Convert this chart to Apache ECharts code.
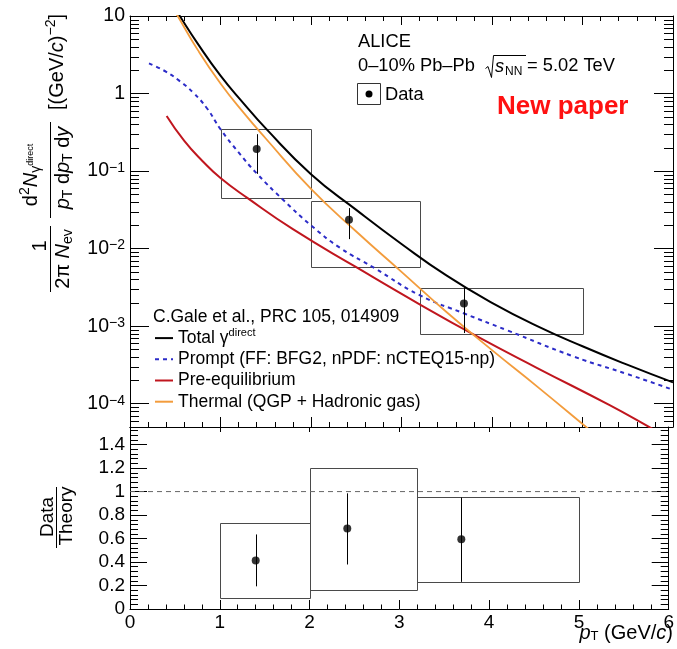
<!DOCTYPE html>
<html><head><meta charset="utf-8">
<script src="https://cdn.jsdelivr.net/npm/echarts@6/dist/echarts.min.js"></script>
<style>html,body{margin:0;padding:0;background:#fff}#c{width:677px;height:649px}</style>
</head><body><div id="c"></div>
<script>
const FONT = '"Liberation Sans", Arial, Helvetica, sans-serif';

// ---- model curves: pT (GeV/c) and yield ----
const totalX = [0.45, 0.55, 0.75, 1.0, 1.25, 1.5, 2.0, 2.5, 3.0, 3.5, 4.0, 4.5, 5.0, 5.5, 6.0];
const totalY = [15.5, 10, 4.37, 1.70, 0.759, 0.355, 0.0912, 0.0316, 0.01148, 4.47e-3, 2.0e-3, 1.0e-3, 5.5e-4, 3.16e-4, 1.88e-4];
const promptX = [0.21, 0.4, 0.55, 0.7, 0.85, 1.0, 1.2, 1.4, 1.7, 2.0, 2.32, 2.7, 3.2, 3.7, 4.16, 4.9, 5.5, 6.0];
const promptY = [2.45, 1.905, 1.445, 1.023, 0.646, 0.347, 0.174, 0.0933, 0.0417, 0.01995, 0.01023, 5.62e-3, 2.51e-3, 1.445e-3, 8.91e-4, 4.07e-4, 2.40e-4, 1.51e-4];
const preeqX = [0.405, 0.6, 0.8, 1.0, 1.3, 1.8, 2.5, 3.2, 3.83, 4.5, 5.3, 5.75, 6.0];
const preeqY = [0.514, 0.245, 0.135, 0.0813, 0.0447, 0.0178, 5.75e-3, 1.91e-3, 7.41e-4, 2.88e-4, 9.55e-5, 4.9e-5, 3.4e-5];
const thermalX = [0.43, 0.527, 0.75, 1.0, 1.25, 1.5, 2.0, 2.5, 3.0, 3.5, 4.0, 4.5, 5.06, 5.3];
const thermalY = [15.5, 10, 3.63, 1.349, 0.575, 0.263, 0.0589, 0.0166, 5.01e-3, 1.51e-3, 4.9e-4, 1.66e-4, 4.79e-5, 2.8e-5];

// ---- data points ----
const dataX = [1.40, 2.42, 3.69];
const dataY = [0.193, 0.0235, 1.96e-3];
const statLow = [0.092, 0.01325, 8.15e-4];
const statHigh = [0.299, 0.0333, 3.25e-3];
const binLow = [1.0, 2.0, 3.2];
const binHigh = [2.0, 3.2, 5.0];
const sysLow = [0.0448, 5.78e-3, 7.9e-4];
const sysHigh = [0.347, 0.0413, 3.1e-3];

// ---- ratio Data/Theory ----
const ratioY = [0.413, 0.685, 0.595];
const ratioStatLow = [0.193, 0.379, 0.231];
const ratioStatHigh = [0.635, 0.985, 0.949];
const ratioSysLow = [0.094, 0.165, 0.231];
const ratioSysHigh = [0.732, 1.205, 0.954];
const unityLine = [1, 1];

// ---- axis ticks ----
const logMinorMantissa = [2, 3, 4, 5, 6, 7, 8, 9];

const zip = (xs, ys) => xs.map((x, i) => [x, ys[i]]);
const chart = echarts.init(document.getElementById('c'), null, {renderer: 'canvas'});

const logMinor = [];
for (let e = -5; e <= 0; e++) for (const m of logMinorMantissa) {
  const v = m * Math.pow(10, e);
  if (v > 5e-5 && v < 10) logMinor.push([0, v]);
}

function boxItem(params, api) {
  const p1 = api.coord([api.value(0), api.value(3)]);
  const p2 = api.coord([api.value(1), api.value(2)]);
  const x1 = Math.round(p1[0]) + 0.5, y1 = Math.round(p1[1]) + 0.5;
  const x2 = Math.round(p2[0]) + 0.5, y2 = Math.round(p2[1]) + 0.5;
  return {type: 'rect', shape: {x: x1, y: y1, width: x2 - x1, height: y2 - y1},
    style: {fill: 'none', stroke: '#4a4a4a', lineWidth: 1}};
}
function errItem(params, api) {
  const a = api.coord([api.value(0), api.value(1)]);
  const b = api.coord([api.value(0), api.value(2)]);
  const x = Math.round(a[0]) + 0.5;
  return {type: 'line', shape: {x1: x, y1: a[1], x2: x, y2: b[1]}, style: {stroke: '#000', lineWidth: 1}};
}
function minorItem(params, api) {
  const l = api.coord([0, api.value(1)]);
  const r = api.coord([6, api.value(1)]);
  const y = Math.round(l[1]) + 0.5;
  return {type: 'group', children: [
    {type: 'line', shape: {x1: l[0], y1: y, x2: l[0] + 9, y2: y}, style: {stroke: '#000', lineWidth: 1}},
    {type: 'line', shape: {x1: r[0] - 9, y1: y, x2: r[0], y2: y}, style: {stroke: '#000', lineWidth: 1}}
  ]};
}

const axisLine = {show: true, onZero: false, lineStyle: {color: '#000', width: 1}};
function xAx(grid, pos, labels, major, minor) {
  return {type: 'value', gridIndex: grid, position: pos, min: 0, max: 6, interval: 1,
    axisLine, splitLine: {show: false},
    axisTick: {show: true, inside: true, length: major, lineStyle: {color: '#000'}},
    minorTick: {show: minor > 0, splitNumber: 5, length: minor, lineStyle: {color: '#000'}},
    axisLabel: {show: labels, fontSize: 19, fontFamily: FONT, color: '#000', margin: 4}};
}
const supRich = {sup: {fontSize: 14, fontFamily: FONT, color: '#000', verticalAlign: 'top', lineHeight: 14}};
function logAx(pos, labels) {
  return {type: 'log', logBase: 10, gridIndex: 0, position: pos, min: 5e-5, max: 10, splitNumber: 6,
    axisLine, splitLine: {show: false}, minorTick: {show: false},
    axisTick: {show: true, inside: true, length: 19, lineStyle: {color: '#000'}},
    axisLabel: {show: labels, showMinLabel: false, fontSize: 19.5, fontFamily: FONT, color: '#000', margin: 5,
      formatter: v => { const e = Math.round(Math.log10(v)); if (e === 1) return '10'; if (e === 0) return '1';
        return '10{sup|−' + (-e) + '}'; }, rich: supRich}};
}
function ratioAx(pos, labels) {
  return {type: 'value', gridIndex: 1, position: pos, min: 0, max: 1.55, interval: 0.2,
    axisLine, splitLine: {show: false},
    axisTick: {show: true, inside: true, length: 17, lineStyle: {color: '#000'}},
    minorTick: {show: true, splitNumber: 5, length: 8, lineStyle: {color: '#000'}},
    axisLabel: {show: labels, showMaxLabel: false, fontSize: 19, fontFamily: FONT, color: '#000', margin: 5,
      formatter: v => String(Math.round(v * 10) / 10)}};
}

const legendNames = {
  'Total': 'Total γ{sup|direct}',
  'Prompt': 'Prompt (FF: BFG2, nPDF: nCTEQ15-np)',
  'Pre-equilibrium': 'Pre-equilibrium',
  'Thermal': 'Thermal (QGP + Hadronic gas)'
};

function curve(name, xs, ys, color, width, type) {
  return {name, type: 'line', xAxisIndex: 0, yAxisIndex: 0, data: zip(xs, ys), smooth: 0.5,
    symbol: 'none', clip: true, lineStyle: {color, width, type}, itemStyle: {color}, z: 3, silent: true};
}

const rot = Math.PI / 2;
const T = (x, y, text, size, extra) => Object.assign({type: 'text', x, y, style: Object.assign({text, fontSize: size, fontFamily: FONT, fill: '#000',
  align: 'left', verticalAlign: 'middle'}, extra && extra.style || {})}, extra && extra.el || {});
const titleRich = {
  i: {fontSize: 20, fontFamily: FONT, fontStyle: 'italic', color: '#000'},
  sub: {fontSize: 14, fontFamily: FONT, color: '#000', verticalAlign: 'bottom', lineHeight: 14},
  sup: {fontSize: 14, fontFamily: FONT, color: '#000', verticalAlign: 'top', lineHeight: 14},
  dir: {fontSize: 9, fontFamily: FONT, color: '#000', verticalAlign: 'middle', lineHeight: 9}
};
const rotText = (x, y, text, size) => ({type: 'text', x, y, rotation: rot,
  style: {text, fontSize: size, fontFamily: FONT, fill: '#000', align: 'center', verticalAlign: 'middle', rich: titleRich, lineHeight: 25}});
const ln = (x1, y1, x2, y2, w) => ({type: 'line', shape: {x1, y1, x2, y2}, style: {stroke: '#000', lineWidth: w || 1}});

const option = {
  animation: false,
  backgroundColor: '#fff',
  grid: [
    {left: 130, top: 16, width: 543, height: 411},
    {left: 130, top: 427, width: 543, height: 182}
  ],
  xAxis: [xAx(0, 'bottom', false, 10, 5), xAx(0, 'top', false, 9, 5), xAx(1, 'bottom', true, 9, 4.5), xAx(1, 'top', false, 5, 0)],
  yAxis: [logAx('left', true), logAx('right', false), ratioAx('left', true), ratioAx('right', false)],
  legend: {
    orient: 'vertical', left: 154, top: 327.5, padding: 0, itemWidth: 18, itemHeight: 12, itemGap: 0, selectedMode: false,
    itemStyle: {opacity: 0, borderWidth: 0},
    data: ['Total', 'Prompt', 'Pre-equilibrium', 'Thermal'],
    formatter: n => legendNames[n],
    textStyle: {fontSize: 17.5, fontFamily: FONT, color: '#000', lineHeight: 21.2,
      rich: {sup: {fontSize: 11, fontFamily: FONT, color: '#000', verticalAlign: 'top', lineHeight: 12}}}
  },
  series: [
    {type: 'custom', xAxisIndex: 0, yAxisIndex: 0, renderItem: minorItem, data: logMinor, encode: {x: 0, y: 1}, silent: true, z: 1},
    {type: 'custom', xAxisIndex: 0, yAxisIndex: 0, renderItem: boxItem, silent: true, z: 2,
      data: binLow.map((b, i) => [b, binHigh[i], sysLow[i], sysHigh[i]]), encode: {x: [0, 1], y: [2, 3]}},
    curve('Total', totalX, totalY, '#000000', 2),
    curve('Prompt', promptX, promptY, '#2c2cc8', 2, [4, 4]),
    curve('Pre-equilibrium', preeqX, preeqY, '#c0161e', 2),
    curve('Thermal', thermalX, thermalY, '#f39c3c', 1.8),
    {type: 'custom', xAxisIndex: 0, yAxisIndex: 0, renderItem: errItem, silent: true, z: 4,
      data: dataX.map((x, i) => [x, statLow[i], statHigh[i]]), encode: {x: 0, y: [1, 2]}},
    {type: 'scatter', xAxisIndex: 0, yAxisIndex: 0, data: zip(dataX, dataY), symbol: 'circle', symbolSize: 8,
      itemStyle: {color: '#000'}, z: 5, silent: true},
    // ratio panel
    {type: 'line', xAxisIndex: 2, yAxisIndex: 2, data: zip([0, 6], unityLine), symbol: 'none', silent: true,
      lineStyle: {color: '#666', width: 1, type: [5, 4]}, z: 2},
    {type: 'custom', xAxisIndex: 2, yAxisIndex: 2, renderItem: boxItem, silent: true, z: 2,
      data: binLow.map((b, i) => [b, binHigh[i], ratioSysLow[i], ratioSysHigh[i]]), encode: {x: [0, 1], y: [2, 3]}},
    {type: 'custom', xAxisIndex: 2, yAxisIndex: 2, renderItem: errItem, silent: true, z: 4,
      data: dataX.map((x, i) => [x, ratioStatLow[i], ratioStatHigh[i]]), encode: {x: 0, y: [1, 2]}},
    {type: 'scatter', xAxisIndex: 2, yAxisIndex: 2, data: zip(dataX, ratioY), symbol: 'circle', symbolSize: 8,
      itemStyle: {color: '#000'}, z: 5, silent: true}
  ],
  graphic: {elements: [
    T(358, 42, 'ALICE', 18.3),
    T(358, 66, '0–10% Pb–Pb', 18.3),
    {type: 'polyline', shape: {points: [[485.5, 68.5], [488, 66.5], [491.5, 77.5], [493.5, 55.5], [526, 55.5]]},
      style: {stroke: '#000', lineWidth: 1, fill: null}},
    T(495, 67, 's', 18.3, {style: {fontStyle: 'italic'}}),
    T(505, 72, 'NN', 12),
    T(527, 66, '= 5.02 TeV', 18.3),
    {type: 'rect', shape: {x: 357.5, y: 83.5, width: 23, height: 21}, style: {fill: '#fff', stroke: '#333', lineWidth: 1}},
    {type: 'circle', shape: {cx: 369, cy: 94, r: 3.5}, style: {fill: '#000'}},
    T(385, 95, 'Data', 18.3),
    T(497, 107, 'New paper', 26, {style: {fill: '#ff1111', fontWeight: 'bold'}}),
    T(153, 317, 'C.Gale et al., PRC 105, 014909', 17.5),
    // y title (top)
    rotText(40, 246, '1', 20),
    ln(50.5, 226, 50.5, 292),
    rotText(63, 259, '2π {i|N}{sub|ev}', 20),
    rotText(31, 175, 'd{sup|2}{i|N}{sub|γ}{dir|direct}', 20),
    ln(50.5, 122, 50.5, 218),
    rotText(63, 168, '{i|p}{sub|T} d{i|p}{sub|T} d{i|y}', 20),
    rotText(57, 62, '[(GeV/{i|c}){sup|−2}]', 20),
    // y title (ratio)
    rotText(48, 517, 'Data', 19),
    ln(56.5, 487, 56.5, 548),
    rotText(67, 516, 'Theory', 19),
    // x title
    {type: 'text', x: 673, y: 633, style: {text: '{ip|p}{sb|T} (GeV/{ip|c})', fontSize: 20, fontFamily: FONT, fill: '#000',
      align: 'right', verticalAlign: 'middle',
      rich: {ip: {fontSize: 20, fontFamily: FONT, fontStyle: 'italic', color: '#000'},
             sb: {fontSize: 13, fontFamily: FONT, color: '#000', verticalAlign: 'bottom', lineHeight: 13}}}}
  ]}
};
chart.setOption(option);
</script></body></html>
